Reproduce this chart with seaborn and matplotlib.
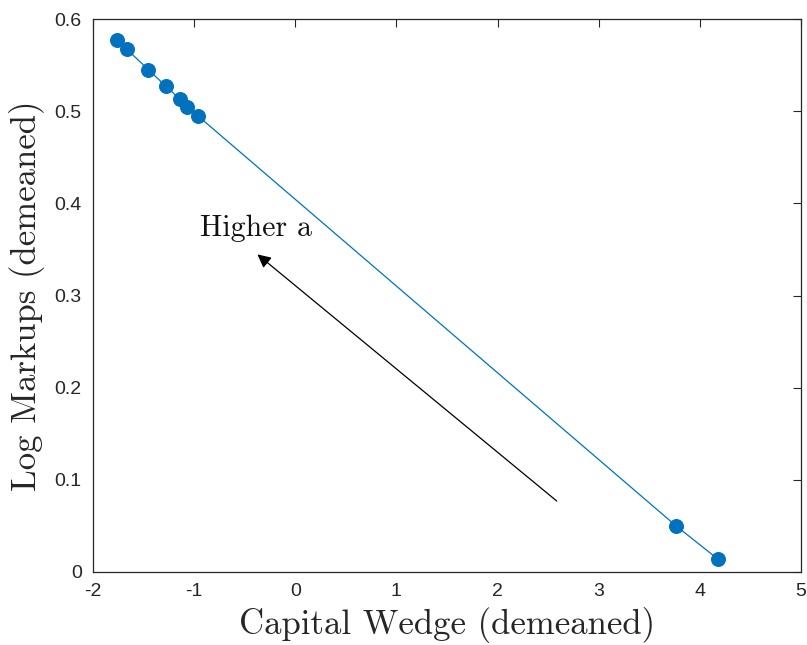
import numpy as np
import pandas as pd
import matplotlib
matplotlib.use('Agg')
import matplotlib.pyplot as plt
import seaborn as sns

# values
capital_wedge = [-1.761, -1.663, -1.452, -1.278, -1.140, -1.067, -0.959, 3.765, 4.180]
log_markups = [0.5775, 0.567, 0.545, 0.527, 0.513, 0.505, 0.4946, 0.050, 0.0138]
x_ticks = [-2, -1, 0, 1, 2, 3, 4, 5]
y_ticks = [0, 0.1, 0.2, 0.3, 0.4, 0.5, 0.6]
y_tick_labels = ['0', '0.1', '0.2', '0.3', '0.4', '0.5', '0.6']

df = pd.DataFrame({'wedge': capital_wedge, 'markup': log_markups})

sns.set_style('white')
plt.rcParams['font.family'] = ['Liberation Sans', 'DejaVu Sans']
plt.rcParams['axes.unicode_minus'] = False

blue = '#0072BD'
axcol = '#262626'

fig = plt.figure(figsize=(8.07, 6.45), dpi=100)
ax = fig.add_axes([0.1152, 0.1132, 0.8774, 0.8573])

sns.lineplot(data=df, x='wedge', y='markup', sort=False, ax=ax,
             color=blue, linewidth=0.9, marker='o', markersize=10,
             markeredgecolor=blue, markerfacecolor=blue)

ax.set_xlim(-2, 5)
ax.set_ylim(0, 0.6)
ax.set_xticks(x_ticks)
ax.set_xticklabels([str(t) for t in x_ticks])
ax.set_yticks(y_ticks)
ax.set_yticklabels(y_tick_labels)

ax.tick_params(direction='in', length=6, width=0.8, colors=axcol,
               labelsize=14, top=True, right=True, pad=8)
for s in ax.spines.values():
    s.set_color(axcol)
    s.set_linewidth(0.9)

ax.set_xlabel('Capital Wedge (demeaned)', family='cmr10', fontsize=25,
              color=axcol, labelpad=5)
ax.set_ylabel('Log Markups (demeaned)', family='cmr10', fontsize=25,
              color=axcol, labelpad=7)

ax.annotate('', xy=(-0.374, 0.3446), xytext=(2.585, 0.077),
            arrowprops=dict(arrowstyle='-|>', color='black', lw=0.9,
                            mutation_scale=20, shrinkA=0, shrinkB=0))
ax.text(-0.945, 0.373, 'Higher a', family='cmr10', fontsize=21.5,
        color='#111111', va='center', ha='left')

fig.savefig('out.png', dpi=100)
